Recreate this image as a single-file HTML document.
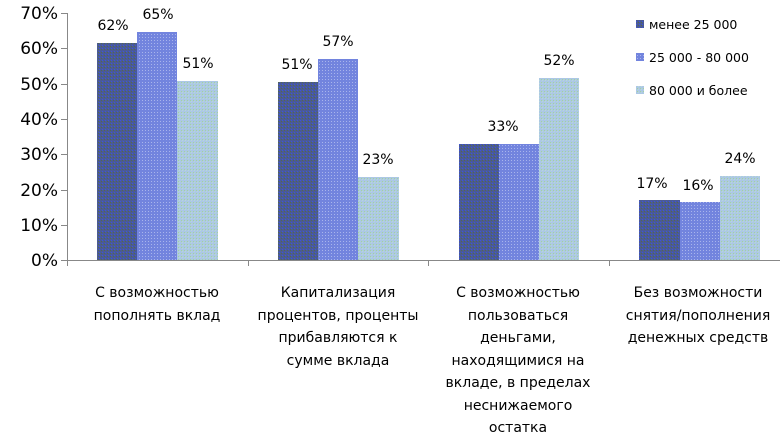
<!DOCTYPE html>
<html><head><meta charset="utf-8"><style>
html,body{margin:0;padding:0;background:#fff;}
svg text{font-family:"DejaVu Sans","Liberation Sans",sans-serif;}
</style></head><body>
<svg width="780" height="440" viewBox="0 0 780 440" xmlns="http://www.w3.org/2000/svg">
<defs>
<pattern id="p1" width="3" height="3" patternUnits="userSpaceOnUse"><rect width="3" height="3" fill="#4a5a96"/><rect x="0" y="0" width="1" height="1" fill="#3f55d8"/><rect x="2" y="1" width="1" height="1" fill="#566a48"/></pattern>
<pattern id="p2" width="3" height="3" patternUnits="userSpaceOnUse"><rect width="3" height="3" fill="#7284de"/><rect x="1" y="1" width="1" height="1" fill="#a8b4ec"/></pattern>
<pattern id="p3" width="3" height="3" patternUnits="userSpaceOnUse"><rect width="3" height="3" fill="#acc8e4"/><rect x="1" y="1" width="1" height="1" fill="#a4d49c"/><rect x="2" y="2" width="1" height="1" fill="#b8d8d8"/></pattern>
</defs>
<g font-size="17" fill="#000" text-anchor="end">
<text x="58" y="19">70%</text><text x="58" y="54">60%</text><text x="58" y="90">50%</text><text x="58" y="125">40%</text><text x="58" y="160">30%</text><text x="58" y="196">20%</text><text x="58" y="231">10%</text><text x="58" y="266">0%</text>
</g>
<g stroke="#888" stroke-width="1">
<line x1="67.5" y1="13" x2="67.5" y2="260"/>
<line x1="61" y1="13.5" x2="67" y2="13.5"/><line x1="61" y1="48.5" x2="67" y2="48.5"/><line x1="61" y1="84.5" x2="67" y2="84.5"/><line x1="61" y1="119.5" x2="67" y2="119.5"/><line x1="61" y1="154.5" x2="67" y2="154.5"/><line x1="61" y1="190.5" x2="67" y2="190.5"/><line x1="61" y1="225.5" x2="67" y2="225.5"/>
<line x1="61" y1="260.5" x2="780" y2="260.5"/>
<line x1="67.5" y1="260" x2="67.5" y2="266"/><line x1="248.5" y1="260" x2="248.5" y2="266"/><line x1="428.5" y1="260" x2="428.5" y2="266"/><line x1="609.5" y1="260" x2="609.5" y2="266"/>
</g>
<g>
<rect x="97" y="43" width="40" height="217" fill="url(#p1)"/>
<rect x="137" y="32" width="40" height="228" fill="url(#p2)"/>
<rect x="177" y="81" width="41" height="179" fill="url(#p3)"/>
<rect x="278" y="82" width="40" height="178" fill="url(#p1)"/>
<rect x="318" y="59" width="40" height="201" fill="url(#p2)"/>
<rect x="358" y="177" width="41" height="83" fill="url(#p3)"/>
<rect x="459" y="144" width="40" height="116" fill="url(#p1)"/>
<rect x="499" y="144" width="40" height="116" fill="url(#p2)"/>
<rect x="539" y="78" width="40" height="182" fill="url(#p3)"/>
<rect x="639" y="200" width="41" height="60" fill="url(#p1)"/>
<rect x="680" y="202" width="40" height="58" fill="url(#p2)"/>
<rect x="720" y="176" width="40" height="84" fill="url(#p3)"/>
</g>
<g font-size="14" text-anchor="middle" fill="#000">
<text x="113" y="30">62%</text><text x="158" y="19">65%</text><text x="198" y="68">51%</text>
<text x="297" y="69">51%</text><text x="338" y="46">57%</text><text x="378" y="164">23%</text>
<text x="503" y="131">33%</text><text x="559" y="65">52%</text>
<text x="652" y="188">17%</text><text x="698" y="190">16%</text><text x="740" y="163">24%</text>
</g>
<g font-size="12.5" fill="#000">
<rect x="636" y="20" width="8" height="8" fill="url(#p1)"/><text x="649" y="29">менее 25 000</text>
<rect x="636" y="53" width="8" height="8" fill="url(#p2)"/><text x="649" y="62">25 000 - 80 000</text>
<rect x="636" y="86" width="8" height="8" fill="url(#p3)"/><text x="649" y="95">80 000 и более</text>
</g>
<g font-size="14" text-anchor="middle" fill="#000">
<text x="157" y="297">С возможностью</text><text x="157" y="320">пополнять вклад</text>
<text x="338" y="297">Капитализация</text><text x="338" y="320">процентов, проценты</text><text x="338" y="342">прибавляются к</text><text x="338" y="365">сумме вклада</text>
<text x="518" y="297">С возможностью</text><text x="518" y="320">пользоваться</text><text x="518" y="342">деньгами,</text><text x="518" y="365">находящимися на</text><text x="518" y="387">вкладе, в пределах</text><text x="518" y="410">неснижаемого</text><text x="518" y="432">остатка</text>
<text x="698" y="297">Без возможности</text><text x="698" y="320">снятия/пополнения</text><text x="698" y="342">денежных средств</text>
</g>
</svg>
</body></html>
